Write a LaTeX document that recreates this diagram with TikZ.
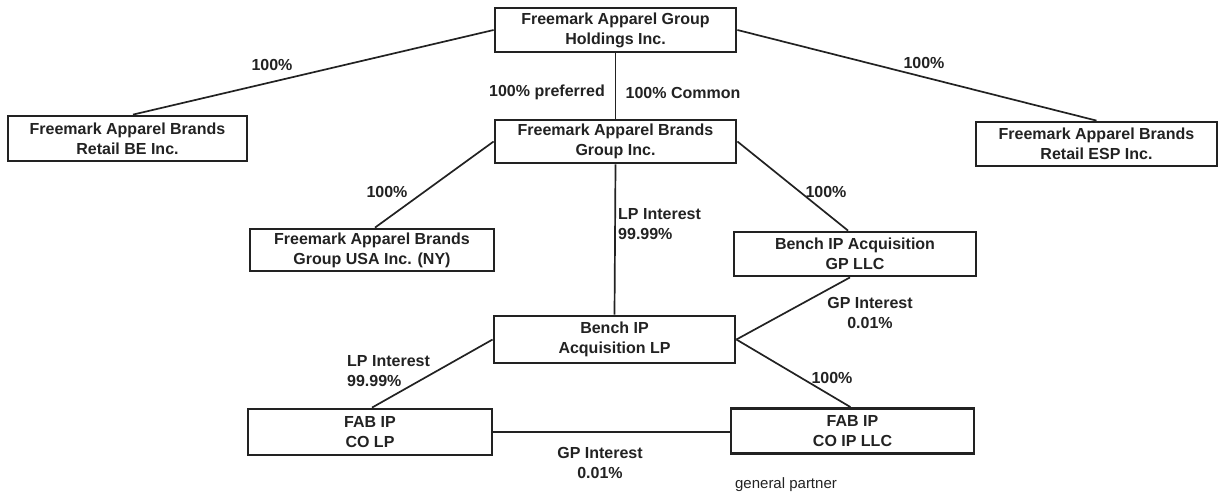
\documentclass[tikz,border=0pt]{standalone}
\usepackage{fontspec}
\setmainfont{Liberation Sans}
\usetikzlibrary{calc}
\definecolor{ink}{RGB}{34,34,34}
\tikzset{
  box/.style={draw=ink, line width=2.8pt, inner sep=0pt, align=center, text=ink,
    font=\bfseries\fontsize{16}{20}\selectfont},
  conn/.style={draw=ink, line width=1.7pt},
  lbl/.style={inner sep=0pt, text=ink, font=\bfseries\fontsize{16}{20}\selectfont},
}
\begin{document}
\begin{tikzpicture}[x=1pt,y=-1pt]
\useasboundingbox (0,0) rectangle (1220,493);
% boxes
\node[box, minimum width=241, minimum height=44] (top) at (615.5,30) {Freemark Apparel Group\\Holdings Inc.};
\node[box, minimum width=239, minimum height=45] (be) at (127.5,138.5) {Freemark Apparel Brands\\Retail BE Inc.};
\node[box, minimum width=241, minimum height=44] (esp) at (1096.5,144) {Freemark Apparel Brands\\Retail ESP Inc.};
\node[box, minimum width=241, minimum height=43] (grp) at (615.5,141.5) {Freemark Apparel Brands\\Group Inc.};
\node[box, minimum width=244, minimum height=42] (usa) at (372,250) {Freemark Apparel Brands\\Group USA Inc. (NY)};
\node[box, minimum width=242, minimum height=44] (gpllc) at (855,254) {Bench IP Acquisition\\GP LLC};
\node[box, minimum width=241, minimum height=47] (lp) at (614.5,339.5) {Bench IP\\Acquisition LP};
\node[box, minimum width=244, minimum height=46] (fablp) at (370,432) {FAB IP\\CO LP};
\node[box, minimum width=243, minimum height=45] (fabllc) at (852.5,431) {FAB IP\\CO IP LLC};
% connectors
\draw[conn] (top.west) -- ([xshift=5.5pt]be.north);
\draw[conn] (top.east) -- (esp.north);
\draw[conn] (top.south) -- (grp.north);
\draw[conn] (grp.west) -- ([xshift=3pt]usa.north);
\draw[conn] (grp.east) -- ([xshift=-7pt]gpllc.north);
\draw[conn] (grp.south) -- (lp.north);
\draw[conn] ([xshift=-5pt]gpllc.south) -- (lp.east);
\draw[conn] (lp.east) -- ([xshift=-2pt]fabllc.north);
\draw[conn] (lp.west) -- ([xshift=2pt]fablp.north);
\draw[conn] (fablp.east) -- (fablp.east -| fabllc.west);
% labels
\node[lbl] (l1) at (272,65) {100\%};
\node[lbl] (l2) at (924,63) {100\%};
\node[lbl] (l3) at (547,92) {100\% preferred};
\node[lbl] (l4) at (683,93) {100\% Common};
\node[lbl] (l5) at (387,192) {100\%};
\node[lbl] (l6) at (826,192) {100\%};
\node[lbl, align=left, anchor=west] (l7) at (618,224.5) {LP Interest\\99.99\%};
\node[lbl, align=center] (l8) at (870,313) {GP Interest\\0.01\%};
\node[lbl, align=left, anchor=west] (l9) at (347,371) {LP Interest\\99.99\%};
\node[lbl] (l10) at (832,378) {100\%};
\node[lbl, align=center] (l11) at (600,463) {GP Interest\\0.01\%};
\node[inner sep=0pt, text=ink, font=\fontsize{15}{18}\selectfont] (l12) at (786,485) {general partner};
\end{tikzpicture}
\end{document}
